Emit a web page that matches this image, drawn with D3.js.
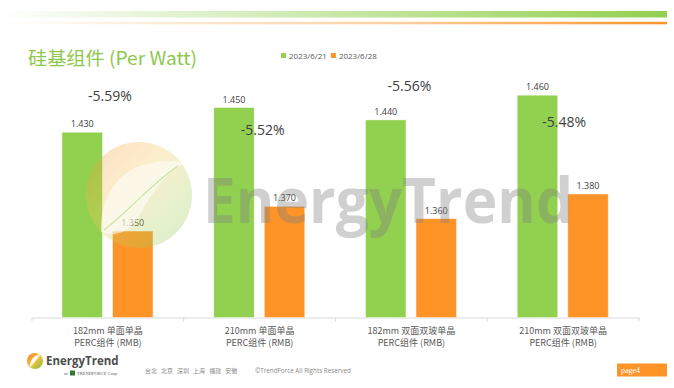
<!DOCTYPE html>
<html>
<head>
<meta charset="utf-8">
<script src="https://cdn.jsdelivr.net/npm/d3@7"></script>
<style>
  html, body { margin: 0; padding: 0; background: #fff; }
  svg { display: block; font-family: "Open Sans", "Noto Sans CJK SC", sans-serif; }
</style>
</head>
<body>
<svg id="chart" width="674" height="388"></svg>
<script>
// chart data
var categories = ["182mm 单面单晶|PERC组件 (RMB)", "210mm 单面单晶|PERC组件 (RMB)",
                  "182mm 双面双玻单晶|PERC组件 (RMB)", "210mm 双面双玻单晶|PERC组件 (RMB)"];
var seriesNames = ["2023/6/21", "2023/6/28"];
var prevPrices = [1.43, 1.45, 1.44, 1.46];
var currPrices = [1.35, 1.37, 1.36, 1.38];
// where the % change annotation sits, in price units
var pctLabelAt = [1.455, 1.428, 1.463, 1.434];
var pctLabelShift = [2, 3, -2, 1];

var colors = ["#92d050", "#fe9428"];

var width = 674, height = 388;
var svg = d3.select("#chart");
var defs = svg.append("defs");

// header stripes
var gG = defs.append("linearGradient").attr("id", "gTop");
gG.append("stop").attr("offset", "0").attr("stop-color", "#92d050").attr("stop-opacity", 0);
gG.append("stop").attr("offset", "0.55").attr("stop-color", "#92d050").attr("stop-opacity", 0.55);
gG.append("stop").attr("offset", "1").attr("stop-color", "#92d050").attr("stop-opacity", 1);
var gO = defs.append("linearGradient").attr("id", "oTop");
gO.append("stop").attr("offset", "0").attr("stop-color", "#fe9428").attr("stop-opacity", 0);
gO.append("stop").attr("offset", "0.6").attr("stop-color", "#fe9428").attr("stop-opacity", 0.45);
gO.append("stop").attr("offset", "1").attr("stop-color", "#fe9428").attr("stop-opacity", 1);
svg.append("rect").attr("x", 0).attr("y", 11).attr("width", 667).attr("height", 6.5).attr("fill", "url(#gTop)");
svg.append("rect").attr("x", 0).attr("y", 21.8).attr("width", 667).attr("height", 2.5).attr("fill", "url(#oTop)");

// title
svg.append("text").attr("x", 28).attr("y", 64.5)
  .attr("fill", "#8cc84b").attr("font-size", 18.5)
  .attr("font-family", "'Noto Sans CJK SC', sans-serif")
  .attr("textLength", 169).attr("lengthAdjust", "spacingAndGlyphs")
  .text("硅基组件 (Per Watt)");

// legend
var legend = svg.append("g").attr("transform", "translate(281,0)");
var lx = 0;
seriesNames.forEach(function(s, i) {
  legend.append("rect").attr("x", lx).attr("y", 53).attr("width", 5).attr("height", 5).attr("fill", colors[i]);
  var t = legend.append("text").attr("x", lx + 8).attr("y", 59)
    .attr("font-size", 8).attr("fill", "#595959").text(s);
  lx += 8 + t.node().getComputedTextLength() + 4;
});

// scales
var x0 = d3.scaleBand().domain(categories).range([32, 639]);
var x1 = d3.scaleBand().domain(seriesNames).range([30, 121]).paddingInner(0.2);
var y = d3.scaleLinear().domain([1.28, 1.5]).range([317.5, 45.8]);

var rows = categories.map(function(c, i) {
  return { cat: c, vals: [prevPrices[i], currPrices[i]] };
});

// axis
var axis = svg.append("g").attr("transform", "translate(0," + y(1.28) + ")")
  .call(d3.axisBottom(x0).tickSize(0).tickFormat(""));
axis.select(".domain").attr("stroke", "#d9d9d9");
x0.domain().concat([null]).forEach(function(c) {
  var xx = c === null ? x0.range()[1] : x0(c);
  axis.append("line").attr("x1", xx).attr("x2", xx).attr("y1", 0).attr("y2", 4).attr("stroke", "#d9d9d9");
});

// bars
var groups = svg.append("g").selectAll("g").data(rows).enter().append("g")
  .attr("transform", function(d) { return "translate(" + x0(d.cat) + ",0)"; });

groups.selectAll("rect").data(function(d) { return d.vals.map(function(v, i) { return { v: v, s: seriesNames[i], i: i }; }); })
  .enter().append("rect")
  .attr("x", function(d) { return x1(d.s); })
  .attr("y", function(d) { return y(d.v); })
  .attr("width", x1.bandwidth())
  .attr("height", function(d) { return y(1.28) - y(d.v); })
  .attr("fill", function(d) { return colors[d.i]; })
  .attr("stroke", "#ffffff").attr("stroke-opacity", 0.5).attr("stroke-width", 0.8);

groups.selectAll("text.val").data(function(d) { return d.vals.map(function(v, i) { return { v: v, s: seriesNames[i] }; }); })
  .enter().append("text").attr("class", "val")
  .attr("x", function(d) { return x1(d.s) + x1.bandwidth() / 2; })
  .attr("y", function(d) { return y(d.v) - 5; })
  .attr("text-anchor", "middle").attr("font-size", 9).attr("fill", "#404040")
  .text(function(d) { return d3.format(".3f")(d.v); });

// category labels
groups.each(function(d) {
  var g = d3.select(this);
  var parts = d.cat.split("|");
  var t = g.append("text").attr("text-anchor", "middle").attr("font-size", 9).attr("fill", "#595959")
    .attr("font-family", "'Noto Sans CJK SC', sans-serif");
  t.append("tspan").attr("x", x0.bandwidth() / 2).attr("y", 334).text(parts[0]);
  t.append("tspan").attr("x", x0.bandwidth() / 2).attr("y", 345.5).text(parts[1]);
});

// % change annotations
var pct = d3.format(".2%");
groups.append("text")
  .attr("x", function(d, i) { return x0.bandwidth() / 2 + pctLabelShift[i]; })
  .attr("y", function(d, i) { return y(pctLabelAt[i]); })
  .attr("text-anchor", "middle").attr("font-size", 14).attr("fill", "#404040")
  .text(function(d) { return pct((d.vals[1] - d.vals[0]) / d.vals[0]).replace("\u2212", "-"); });

// watermark
var wg = defs.append("linearGradient").attr("id", "wmGrad").attr("x1", "0").attr("y1", "0").attr("x2", "1").attr("y2", "1");
wg.append("stop").attr("offset", "0").attr("stop-color", "#f28a2c");
wg.append("stop").attr("offset", "0.4").attr("stop-color", "#f6c75a");
wg.append("stop").attr("offset", "0.75").attr("stop-color", "#a6cf55");
wg.append("stop").attr("offset", "1").attr("stop-color", "#7fbf3f");

var wm = svg.append("g").attr("pointer-events", "none");
wm.append("circle").attr("cx", 139).attr("cy", 195).attr("r", 53)
  .attr("fill", "url(#wmGrad)").attr("opacity", 0.3);
wm.append("path")
  .attr("d", "M101,232 C100,200 115,175 140,166 C155,161 172,160 185,163 C165,172 150,195 140,215 C130,232 115,238 101,232 Z")
  .attr("fill", "#ffffff").attr("opacity", 0.55);
wm.append("path")
  .attr("d", "M104,230 C130,210 150,185 178,166")
  .attr("fill", "none").attr("stroke", "#9ccf5a").attr("stroke-width", 1.2).attr("opacity", 0.5);
wm.append("text").attr("x", 203).attr("y", 223)
  .attr("font-size", 63).attr("font-weight", "bold").attr("fill", "#7f7f7f").attr("opacity", 0.36)
  .attr("font-family", "'Open Sans', sans-serif")
  .attr("textLength", 370).attr("lengthAdjust", "spacingAndGlyphs")
  .text("EnergyTrend");

// footer logo
var fg = defs.append("linearGradient").attr("id", "logoGrad").attr("x1", "0").attr("y1", "0").attr("x2", "1").attr("y2", "1");
fg.append("stop").attr("offset", "0").attr("stop-color", "#f07f1e");
fg.append("stop").attr("offset", "0.5").attr("stop-color", "#f7c23c");
fg.append("stop").attr("offset", "1").attr("stop-color", "#7cbd3a");
var logo = svg.append("g");
logo.append("circle").attr("cx", 35).attr("cy", 361).attr("r", 8).attr("fill", "url(#logoGrad)");
logo.append("path").attr("d", "M30,367 C30,360 34,355 41,354 C37,358 35,363 30,367 Z").attr("fill", "#ffffff");
logo.append("text").attr("x", 46).attr("y", 365).attr("font-size", 11.5).attr("font-weight", "bold")
  .attr("fill", "#4d4d4d").attr("font-family", "'Open Sans', sans-serif").text("EnergyTrend");
logo.append("text").attr("x", 64).attr("y", 375).attr("font-size", 4.5).attr("fill", "#555")
  .attr("font-family", "'Liberation Serif', serif").text("of");
logo.append("rect").attr("x", 70).attr("y", 370.5).attr("width", 5).attr("height", 5).attr("fill", "#2e7d32");
logo.append("text").attr("x", 77).attr("y", 375).attr("font-size", 4.5).attr("fill", "#555")
  .attr("font-family", "'Liberation Serif', serif").text("TRENDFORCE Corp.");

svg.append("text").attr("x", 145).attr("y", 373).attr("font-size", 6).attr("fill", "#8a8a8a")
  .attr("font-family", "'Noto Sans CJK SC', sans-serif").style("white-space", "pre")
  .text("台北   北京   深圳   上海   福建   安徽");
svg.append("text").attr("x", 255).attr("y", 373).attr("font-size", 6.3).attr("fill", "#8a8a8a")
  .text("©TrendForce All Rights Reserved");

svg.append("rect").attr("x", 617).attr("y", 363.5).attr("width", 50).attr("height", 13).attr("fill", "#fe9428");
svg.append("text").attr("x", 621).attr("y", 373).attr("font-size", 8).attr("fill", "#ffffff")
  .attr("font-family", "'Liberation Serif', serif").text("page4");
</script>
</body>
</html>
